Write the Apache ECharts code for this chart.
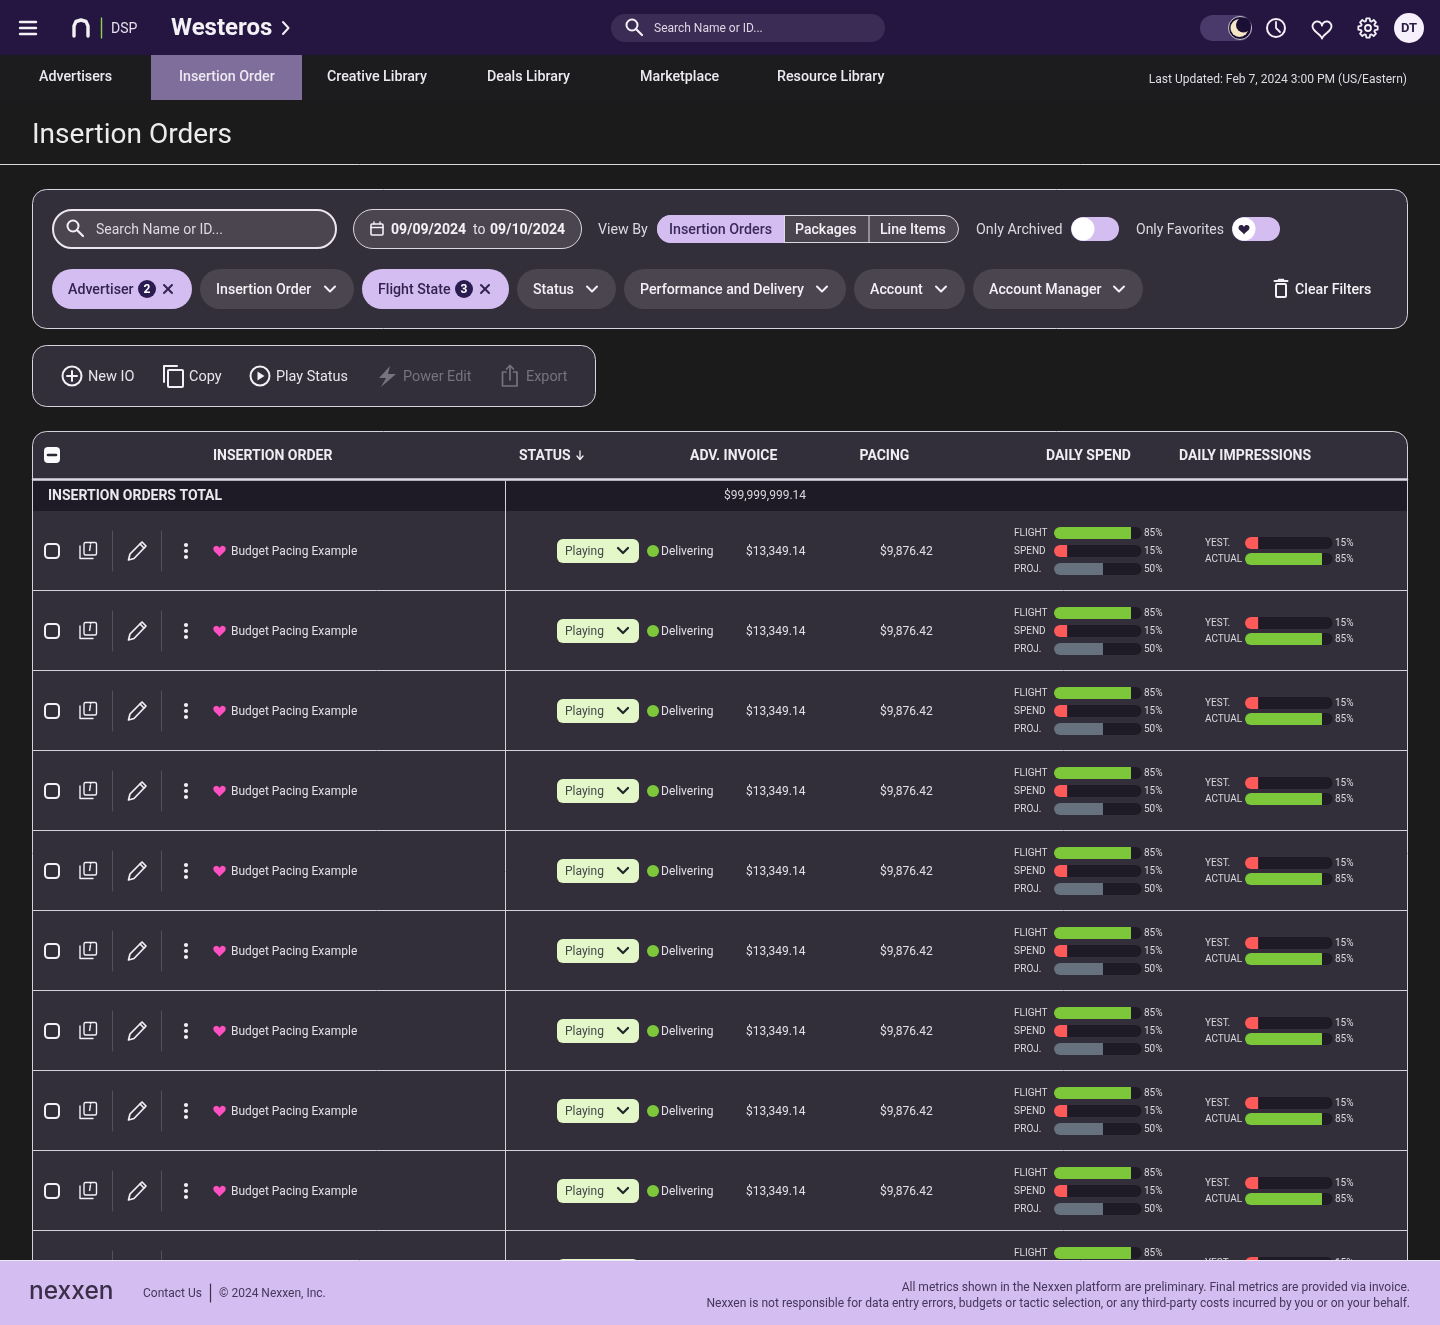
<!DOCTYPE html>
<html><head><meta charset="utf-8"><style>html,body{margin:0;padding:0;background:#1b1b1c}#c{width:1440px;height:1325px}</style>
<script src="https://cdn.jsdelivr.net/npm/echarts@6/dist/echarts.min.js"></script></head><body><div id="c"></div>
<script>
// ---- data ----
const navItems = ['Advertisers','Insertion Order','Creative Library','Deals Library','Marketplace','Resource Library'];
const viewByItems = ['Insertion Orders','Packages','Line Items'];
const filterChips = ['Advertiser','Insertion Order','Flight State','Status','Performance and Delivery','Account','Account Manager'];
const actionItems = ['New IO','Copy','Play Status','Power Edit','Export'];
const tableHeaders = ['INSERTION ORDER','STATUS','ADV. INVOICE','PACING','DAILY SPEND','DAILY IMPRESSIONS'];
const rowNames = Array(10).fill('Budget Pacing Example');
const statusValue = 'Playing', deliveryValue = 'Delivering';
const invoiceValue = '$13,349.14', pacingValue = '$9,876.42', invoiceTotal = '$99,999,999.14';
const spendCategories = ['FLIGHT','SPEND','PROJ.'];
const spendFill = [88,15,56];
const spendLabels = ['85%','15%','50%'];
const imprCategories = ['YEST.','ACTUAL'];
const imprFill = [15,88];
const imprLabels = ['15%','85%'];

// ---- palette ----
const GREEN='#7dc73a',RED='#ff5a5a',GREY='#66727e',TRACK='#1e1b26',PANEL='#322f3a',CHIP='#4a454e',LILAC='#d4bdf1',
      INK='#241640',WHITE='#f3f1f5',LINE='#d5d1db',FONT='Roboto, sans-serif';
const els=[];
const T=(text,x,y,size,color,weight,align,z,family)=>els.push({type:'text',z:z||1,silent:true,style:{text,x,y:y+size*0.085,fill:color||WHITE,
  font:`${weight||400} ${size}px ${family||FONT}`,textAlign:align||'left',textVerticalAlign:'middle',align:align||'left',verticalAlign:'middle'}});
const R=(x,y,w,h,r,fill,stroke,lw,z)=>els.push({type:'rect',z:z||0,silent:true,shape:{x,y,width:w,height:h,r:r||0},
  style:{fill:fill||'transparent',stroke:stroke||null,lineWidth:lw||0}});
const C=(x,y,r,fill,stroke,lw,z)=>els.push({type:'circle',z:z||1,silent:true,shape:{cx:x,cy:y,r},style:{fill:fill||'transparent',stroke:stroke||null,lineWidth:lw||0}});
const PL=(pts,stroke,lw,z)=>els.push({type:'polyline',z:z||1,silent:true,shape:{points:pts},style:{fill:'none',stroke,lineWidth:lw||1.5,lineCap:'round',lineJoin:'round'}});
const PG=(pts,fill,stroke,lw,z)=>els.push({type:'polygon',z:z||1,silent:true,shape:{points:pts},style:{fill:fill||'transparent',stroke:stroke||null,lineWidth:lw||0,lineJoin:'round'}});
const heart=(cx,cy,w,fill,stroke,lw)=>{const p=[],s=w/32;for(let k=0;k<40;k++){const t=k/40*2*Math.PI;
  p.push([cx+s*16*Math.pow(Math.sin(t),3),cy-s*(13*Math.cos(t)-5*Math.cos(2*t)-2*Math.cos(3*t)-Math.cos(4*t))]);}
  PG(p,fill,stroke,lw);};
const chev=(x,y,c,w)=>PL([[x-5,y-2.5],[x,y+2.5],[x+5,y-2.5]],c||WHITE,w||2);
const mag=(x,y,c)=>{C(x-2,y-2,5.5,null,c||WHITE,2);PL([[x+2,y+2],[x+8,y+8]],c||WHITE,2.2)};
const cross=(x,y,c)=>{PL([[x-4,y-4],[x+4,y+4]],c,2);PL([[x+4,y-4],[x-4,y+4]],c,2)};

// ---- page chrome ----
R(0,0,1440,1325,0,'#1b1b1c');
R(0,0,1440,55,0,INK);
R(0,55,1440,45,0,'#1c1c1f');
[22,28,34].forEach(y=>PL([[20,y],[36,y]],WHITE,2.4));
PL([[74,36],[74,26],[76,21.5],[81,20],[86,21.5],[88,26],[88,36]],WHITE,3.4);
PL([[101.5,18],[101.5,38]],'#8fd14f',1.4);
T('DSP',111,28.5,14,'#e4e0ea');
T('Westeros',171,27,24,WHITE,700);
PL([[283,22],[288.5,28],[283,34]],WHITE,2);
R(611,14,274,28,14,'#3b2c55');
mag(634,27);
T('Search Name or ID...',654,28,12,'#ddd8e5');
R(1200,15,52,26,13,'#4a3a6b');
C(1240,28,11.5,'#1b0f35',WHITE,0.8);
C(1239.5,28,9,'#f7e6c4');C(1243.5,25,7.5,'#1b0f35');
C(1276,28,9,null,WHITE,2);PL([[1276,22],[1276,28],[1280,32]],WHITE,1.8);
heart(1322,28.5,19,'transparent',WHITE,1.9);
(()=>{const pts=[],n=8,cx=1368,cy=28;for(let i=0;i<n;i++){const a=i/n*2*Math.PI;
  [[-.3,7.2],[-.17,9.8],[.17,9.8],[.3,7.2]].forEach(([d,r])=>pts.push([cx+r*Math.cos(a+d),cy+r*Math.sin(a+d)]));}
  PG(pts,null,WHITE,1.8);C(cx,cy,3,null,WHITE,1.8);})();
C(1409,28,15,'#f5f0fb');T('DT',1409,27.5,13,'#2a1c45',700,'center');

// nav
R(151,55,151,45,0,'#7f6e9c');
const navX=[39,179,327,487,640,777];
navItems.forEach((t,i)=>T(t,navX[i],76.5,14.25,'#ece9f0',500));
T('Last Updated: Feb 7, 2024 3:00 PM (US/Eastern)',1407,78.5,12.05,'#dedbe2',400,'right');
T('Insertion Orders',32,133.5,28,'#ececec',400);
PL([[0,164.5],[1440,164.5]],'#d8d8d8',1);

// filter panel
R(32.5,189.5,1375,139,14,PANEL,'#d8d4de',1);
R(53,210,283,38,19,CHIP,'#ebe6f0',2);
mag(75,228);
T('Search Name or ID...',96,229,14,'#ddd9e2');
R(353.5,209.5,228,39,19.5,CHIP,'#dcd8e2',1);
R(371,224,12,11,1,null,WHITE,1.6);PL([[371,227.5],[383,227.5]],WHITE,1.6);PL([[374,222],[374,224]],WHITE,1.4);PL([[380,222],[380,224]],WHITE,1.4);
T('09/09/2024',391,229,14.1,WHITE,700);T('to',473,229,14,'#e4e0ea');T('09/10/2024',490,229,14.1,WHITE,700);
T('View By',598,229,14.2,'#dcd8e2');
R(657.5,215.5,301,27,13.5,CHIP,'#dcd8e2',1);
R(657,215,127,28,[14,0,0,14],LILAC);
PL([[784.5,215.5],[784.5,242.5]],'#dcd8e2',1);PL([[869,215.5],[869,242.5]],'#dcd8e2',1);
T(viewByItems[0],669,229,14.25,'#3b2a58',500);T(viewByItems[1],795,229,14.1,WHITE,500);T(viewByItems[2],880,229,14.1,WHITE,500);
T('Only Archived',976,229,14.25,'#dcd8e2');
R(1071,217,48,24,12,LILAC);C(1083,229,11.5,'#fff');
T('Only Favorites',1136,229,14,'#dcd8e2');
R(1232,217,48,24,12,LILAC);C(1244,229,11.5,'#fff');heart(1244,229,11,'#2c2140');

// chips
const chipX=[[52,140,1],[200,154,0],[362,147,1],[517,99,0],[624,222,0],[854,111,0],[973,170,0]];
filterChips.forEach((t,i)=>{const [x,w,on]=chipX[i];
  R(x,269,w,40,20,on?LILAC:CHIP);
  T(t,x+16,289.5,14.2,on?'#33244f':WHITE,500);
  if(!on)chev(x+w-24,289);});
C(147,289,9,'#2a1c50');T('2',147,288.5,12,'#fff',700,'center');cross(168,289,'#33244f');
C(464,289,9,'#2a1c50');T('3',464,288.5,12,'#fff',700,'center');cross(485,289,'#33244f');
R(1276,284,10,13,1,null,WHITE,2);PL([[1274.5,281],[1287.5,281]],WHITE,2);PL([[1278.5,279.5],[1283.5,279.5]],WHITE,1.5);
T('Clear Filters',1295,289.5,14.2,WHITE,500);

// action panel
R(32.5,345.5,563,61,14,PANEL,'#d8d4de',1);
C(72,376,9.5,null,WHITE,2);PL([[67,376],[77,376]],WHITE,2);PL([[72,371],[72,381]],WHITE,2);
T(actionItems[0],88,376.5,14.5,'#e8e5ec');
R(168,370,15,17,1,null,WHITE,2);PL([[164,382],[164,366],[177,366]],WHITE,2);
T(actionItems[1],189,376.5,14.5,'#e8e5ec');
C(260,376,9.5,null,WHITE,2);PG([[257.5,371.5],[264.5,376],[257.5,380.5]],WHITE);
T(actionItems[2],276,376.5,14.4,'#e8e5ec');
PG([[390,366],[379,378],[386,378],[381,387],[396,374],[388,374]],'#767280');
T(actionItems[3],403,376.5,14.4,'#767280');
PL([[506,372],[502.5,372],[502.5,386],[517,386],[517,372],[513.5,372]],'#767280',1.7);PL([[510,380],[510,366]],'#767280',1.7);PL([[506.5,369],[510,365.5],[513.5,369]],'#767280',1.7);
T(actionItems[4],526,376.5,14.4,'#767280');

// table frame
R(32.5,431.5,1375,830,[14,14,0,0],PANEL,'#d5d1db',1);
R(33,481,1374,30,0,TRACK);
PL([[33,479.5],[1407,479.5]],'#dcd8e4',2.4);
PL([[505.5,481],[505.5,1262]],LINE,1);
R(44,447,16,16,4,'#fbfafc');PL([[48,455],[56,455]],'#2b2833',2.6);
const headX=[213,519,690,859.5,1046,1179];
tableHeaders.forEach((t,i)=>T(t,headX[i],455.5,14,'#efedf2',700));
PL([[580,451],[580,459]],WHITE,1.3);PL([[583,456],[580,459.5],[577,456]],WHITE,1.3);
T('INSERTION ORDERS TOTAL',48,495.5,14,'#ebe9ee',700);
T(invoiceTotal,724,495,12,'#d9d6de');

// rows
rowNames.forEach((name,i)=>{
  const y=551+80*i;
  if(i<9)PL([[33,y+39.5],[1407,y+39.5]],LINE,1);
  R(45,y-7,14,14,3.5,null,WHITE,2);
  R(84,y-8.5,12.5,12.5,1.5,null,WHITE,1.4);
  PL([[80,y-5],[80,y+7.5],[93,y+7.5]],WHITE,1.4);
  T('i',90,y-3,10,WHITE,'italic 700','center');
  PL([[112.5,y-20],[112.5,y+20]],'#54505c',1);
  PG([[128.5,y+9],[130,y+3],[142,y-9],[146,y-5],[134,y+7.5]],null,WHITE,1.7);
  PL([[140,y-7],[144,y-3]],WHITE,1.7);
  PL([[161.5,y-20],[161.5,y+20]],'#54505c',1);
  [-6,0,6].forEach(d=>C(186,y+d,2.1,WHITE));
  heart(219.5,y-0.5,12.5,'#ff4fc0');
  T(name,231,y-0.5,12,'#e2dfe6');
  R(557,y-12,82,24,6,'#e3f7c8');
  T(statusValue,565,y-0.5,12,'#45474a');
  chev(623,y-0.5,'#23232b',2.2);
  C(653,y,6,GREEN);
  T(deliveryValue,661,y-0.5,12,'#e2dfe6');
  T(invoiceValue,746,y-0.5,12,'#e2dfe6');
  T(pacingValue,880,y-0.5,12,'#e2dfe6');
});

// footer (covers the last row)
R(0,1261,1440,64,0,LILAC,null,0,50);
PL([[0,1260.5],[1440,1260.5]],'#eee8f5',1,50);
T('nexxen',29,1289.5,24.5,'#3a2e48',500,'left',51,'Inter, sans-serif');
T('Contact Us',143,1293,12,'#44375a',400,'left',51);
PL([[210.5,1284],[210.5,1302]],'#3a2e48',1.2,51);
T('© 2024 Nexxen, Inc.',219,1293,12,'#44375a',400,'left',51);
T('All metrics shown in the Nexxen platform are preliminary. Final metrics are provided via invoice.',1410,1287,12.05,'#44375a',400,'right',51);
T('Nexxen is not responsible for data entry errors, budgets or tactic selection, or any third-party costs incurred by you or on your behalf.',1410,1303,12.05,'#44375a',400,'right',51);

// ---- mini bar charts through ECharts scales ----
const grids=[],xAxes=[],yAxes=[],series=[];
const labelStyle=(margin)=>({show:true,color:'#dcd9e0',fontSize:10,fontFamily:FONT,margin,align:'left',interval:0});
function mini(left,top,height,cats,fill,labels,colors){
  const g=grids.length;
  grids.push({left,top,width:87.5,height,containLabel:false});
  xAxes.push({type:'value',gridIndex:g,min:0,max:100,show:false});
  const base={type:'category',gridIndex:g,inverse:true,axisLine:{show:false},axisTick:{show:false},splitLine:{show:false}};
  const yi=yAxes.length;
  yAxes.push({...base,position:'left',data:cats,axisLabel:labelStyle(40)});
  yAxes.push({...base,position:'right',data:labels,axisLabel:labelStyle(2.5)});
  series.push({type:'bar',xAxisIndex:g,yAxisIndex:yi,barWidth:12,silent:true,z:3,
    showBackground:true,backgroundStyle:{color:TRACK,borderRadius:6},
    data:fill.map((v,k)=>({value:v,itemStyle:{color:colors[k],borderRadius:[6,0,0,6]}}))});
}
rowNames.forEach((n,i)=>{
  const y=551+80*i;
  mini(1054,y-27,54,spendCategories,spendFill,spendLabels,[GREEN,RED,GREY]);
  mini(1245,y-16,32,imprCategories,imprFill,imprLabels,[RED,GREEN]);
});

const chart=echarts.init(document.getElementById('c'),null,{renderer:'canvas',width:1440,height:1325});
chart.setOption({animation:false,backgroundColor:'#1b1b1c',tooltip:{show:false},legend:{show:false},
  graphic:{elements:els},grid:grids,xAxis:xAxes,yAxis:yAxes,series});
</script></body></html>
